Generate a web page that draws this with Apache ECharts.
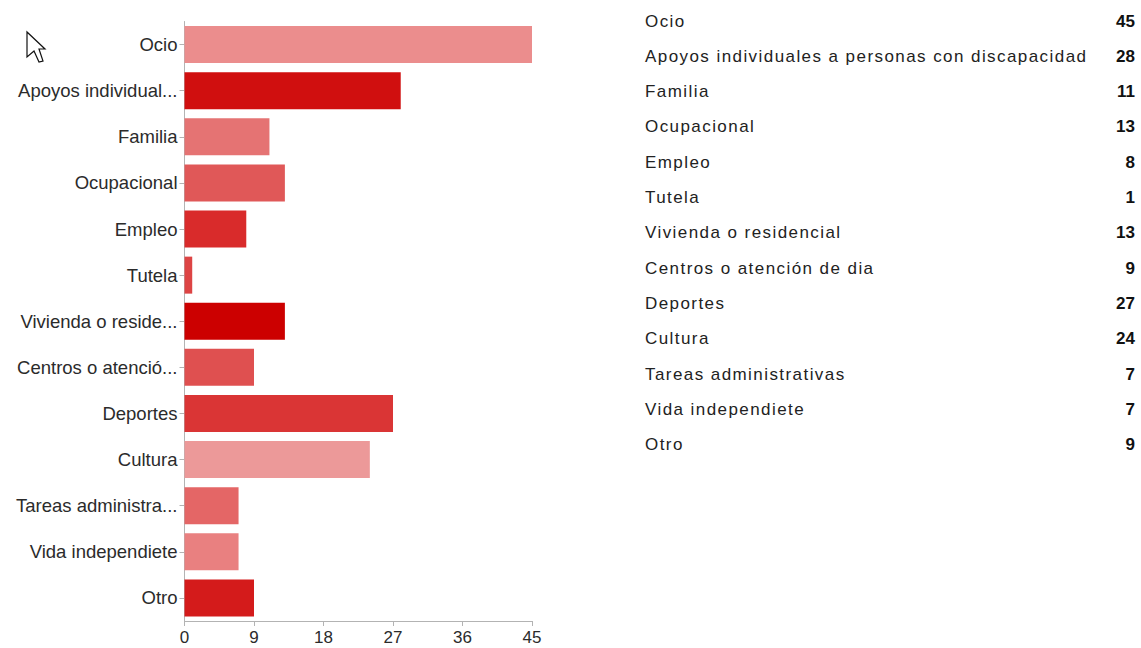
<!DOCTYPE html>
<html>
<head>
<meta charset="utf-8">
<script src="https://cdn.jsdelivr.net/npm/echarts@6/dist/echarts.min.js"></script>
<style>
  html, body { margin: 0; background: #fff; }
  #chart { width: 1141px; height: 648px; }
  /* the list on the right is spaced wider than the font's default */
  #chart text[style*="Arimo"] { letter-spacing: 1.43px; }
</style>
</head>
<body>
<div id="chart"></div>
<script>
var categories = ['Ocio', 'Apoyos individuales a personas con discapacidad', 'Familia', 'Ocupacional', 'Empleo', 'Tutela',
  'Vivienda o residencial', 'Centros o atención de dia', 'Deportes', 'Cultura', 'Tareas administrativas', 'Vida independiete', 'Otro'];
var axisNames = ['Ocio', 'Apoyos individual...', 'Familia', 'Ocupacional', 'Empleo', 'Tutela',
  'Vivienda o reside...', 'Centros o atenció...', 'Deportes', 'Cultura', 'Tareas administra...', 'Vida independiete', 'Otro'];
var values = [45, 28, 11, 13, 8, 1, 13, 9, 27, 24, 7, 7, 9];
var barColors = ['#eb8d8d', '#d00f0f', '#e57373', '#e05858', '#d92b2b', '#dd4444', '#cc0000',
  '#df5050', '#da3535', '#ec9999', '#e46666', '#e98080', '#d41b1b'];

var chart = echarts.init(document.getElementById('chart'), null, { renderer: 'svg' });

var graphics = [{
  type: 'polygon',
  shape: { points: [[27, 32], [27, 57], [34, 51], [39, 62], [43, 61], [39, 49], [45, 49]] },
  style: { fill: '#fff', stroke: '#111', lineWidth: 1.2 }
}];

// list on the right: name + bold count, one row per category
categories.forEach(function (name, i) {
  var y = 21 + i * 35.33;
  graphics.push({
    type: 'text', x: 645, y: y,
    style: { text: name, font: '17px Arimo, "Liberation Sans"', fill: '#222', verticalAlign: 'middle' }
  });
  graphics.push({
    type: 'text', x: 1135, y: y,
    style: { text: String(values[i]), font: 'bold 17px "Liberation Sans"', fill: '#111', align: 'right', verticalAlign: 'middle' }
  });
});

chart.setOption({
  animation: false,
  grid: { left: 184.5, right: 609, top: 21.5, bottom: 27 },
  xAxis: {
    type: 'value', min: 0, max: 45, interval: 9,
    axisLine: { show: true, lineStyle: { color: '#b3b3b3' } },
    axisTick: { show: true, length: 5, lineStyle: { color: '#b3b3b3' } },
    axisLabel: { color: '#2b2b2b', fontFamily: 'Liberation Sans', fontSize: 17, margin: 8 },
    splitLine: { show: false }
  },
  yAxis: {
    type: 'category', inverse: true, data: axisNames,
    axisLine: { show: true, lineStyle: { color: '#b3b3b3' } },
    axisTick: { show: true, alignWithLabel: true, length: 5, lineStyle: { color: '#b3b3b3' } },
    axisLabel: { color: '#2b2b2b', fontFamily: 'Liberation Sans', fontSize: 18.5, margin: 7, interval: 0, padding: [2, 0, 0, 0] }
  },
  series: [{
    type: 'bar',
    barWidth: 37,
    data: values.map(function (v, i) {
      return { value: v, itemStyle: { color: barColors[i] } };
    })
  }],
  graphic: graphics
});
</script>
</body>
</html>
